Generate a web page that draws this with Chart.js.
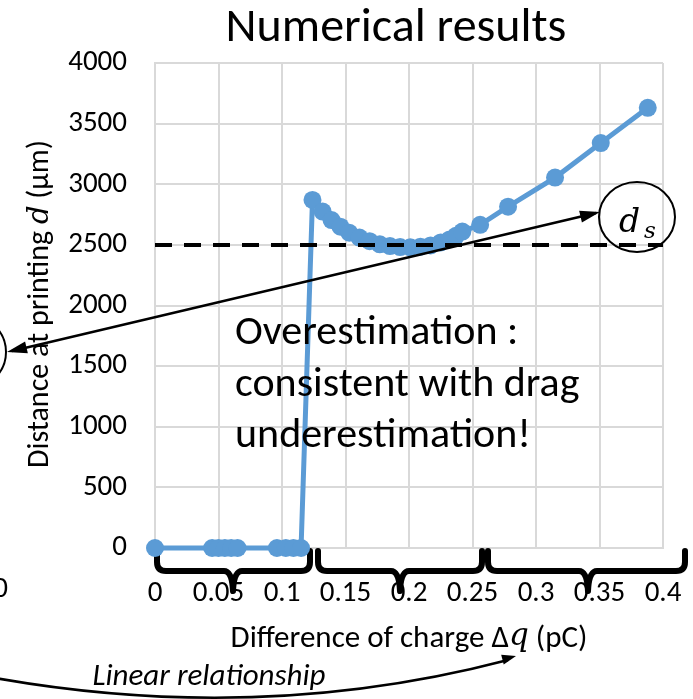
<!DOCTYPE html>
<html lang="en">
<head>
  <meta charset="UTF-8">
  <title>Numerical results</title>
  <script src="https://cdn.jsdelivr.net/npm/chart.js"></script>
  <style>
    html, body { margin: 0; padding: 0; background: #fff; }
    canvas { display: block; }
  </style>
</head>
<body>
  <canvas id="resultsChart" width="693" height="699"></canvas>

  <script>
    // charge difference (pC) and printing distance (um)
    const chargeValues = [0, 0.045, 0.05, 0.055, 0.06, 0.065, 0.096, 0.103, 0.109, 0.115,
      0.124, 0.132, 0.139, 0.146, 0.153, 0.161, 0.169, 0.177, 0.185, 0.193, 0.201,
      0.209, 0.217, 0.225, 0.232, 0.237, 0.242, 0.256, 0.278, 0.315, 0.351, 0.388];
    const distanceValues = [0, 0, 0, 0, 0, 0, 0, 0, 0, 0,
      2871, 2775, 2705, 2650, 2600, 2560, 2530, 2505, 2490, 2482, 2480,
      2485, 2495, 2520, 2545, 2575, 2610, 2665, 2815, 3055, 3340, 3630];
    const thresholdValue = 2500;
    const xTicks = [0, 0.05, 0.1, 0.15, 0.2, 0.25, 0.3, 0.35, 0.4];
    const yTicks = [0, 500, 1000, 1500, 2000, 2500, 3000, 3500, 4000];

    const FONT = 'Carlito, Lato, sans-serif';
    const MATH = '"DejaVu Serif", serif';
    const BLUE = '#5B9BD5';

    const points = chargeValues.map((x, i) => ({ x: x, y: distanceValues[i] }));
    const thresholdLine = [
      { x: xTicks[0], y: thresholdValue },
      { x: xTicks[xTicks.length - 1], y: thresholdValue }
    ];

    function arrowHead(ctx, x, y, angle, len, wid) {
      ctx.save();
      ctx.translate(x, y);
      ctx.rotate(angle);
      ctx.beginPath();
      ctx.moveTo(0, 0);
      ctx.lineTo(-len, -wid / 2);
      ctx.lineTo(-len, wid / 2);
      ctx.closePath();
      ctx.fill();
      ctx.restore();
    }

    function brace(ctx, x0, x1, xm) {
      const yTop = 551, yH = 571, yTip = 597, r = 9;
      ctx.beginPath();
      ctx.moveTo(x0, yTop);
      ctx.lineTo(x0, yH - r);
      ctx.quadraticCurveTo(x0, yH, x0 + r, yH);
      ctx.lineTo(xm - r, yH);
      ctx.quadraticCurveTo(xm - 1, yH, xm, yTip - 6);
      ctx.quadraticCurveTo(xm + 1, yH, xm + r, yH);
      ctx.lineTo(x1 - r, yH);
      ctx.quadraticCurveTo(x1, yH, x1, yH - r);
      ctx.lineTo(x1, yTop);
      ctx.stroke();
    }

    // draws pieces of text in a row, each with its own font
    function mixedText(ctx, parts, cx, y) {
      let total = 0;
      parts.forEach(p => { ctx.font = p.font; p.w = ctx.measureText(p.text).width; total += p.w; });
      let x = cx - total / 2;
      ctx.textAlign = 'left';
      parts.forEach(p => { ctx.font = p.font; ctx.fillText(p.text, x, y + (p.dy || 0)); x += p.w; });
    }

    // braces sit under the data line
    const braces = {
      id: 'braces',
      beforeDatasetsDraw(chart) {
        const ctx = chart.ctx;
        ctx.save();
        ctx.strokeStyle = '#000';
        ctx.lineWidth = 6;
        ctx.lineJoin = 'round';
        ctx.lineCap = 'round';
        brace(ctx, 157, 310, 233);
        brace(ctx, 318, 482, 400);
        brace(ctx, 488, 685, 588);
        ctx.restore();
      }
    };

    // title, mixed-style axis titles and the slide annotations
    const annotations = {
      id: 'annotations',
      afterDraw(chart) {
        const ctx = chart.ctx;
        ctx.save();
        ctx.fillStyle = '#000';
        ctx.strokeStyle = '#000';
        ctx.textBaseline = 'alphabetic';

        // title
        ctx.font = '48px ' + FONT;
        ctx.textAlign = 'center';
        ctx.fillText('Numerical results', 396, 41);

        // x axis title with italic q
        mixedText(ctx, [
          { text: 'Difference of charge Δ', font: '31px ' + FONT },
          { text: 'q', font: 'italic 31px ' + MATH, dy: -2 },
          { text: ' (pC)', font: '31px ' + FONT }
        ], 409, 647);

        // y axis title with italic d
        ctx.save();
        ctx.translate(48, 304);
        ctx.rotate(-Math.PI / 2);
        mixedText(ctx, [
          { text: 'Distance at printing ', font: '30px ' + FONT },
          { text: 'd', font: 'italic 29px ' + MATH },
          { text: ' (μm)', font: '30px ' + FONT }
        ], 0, 0);
        ctx.restore();

        // stray "0" at left edge
        ctx.font = '29px ' + FONT;
        ctx.textAlign = 'right';
        ctx.textBaseline = 'middle';
        ctx.fillText('0', 8, 590);

        // d_s bubble
        ctx.lineWidth = 2;
        ctx.beginPath();
        ctx.ellipse(637, 217, 38, 35, 0, 0, Math.PI * 2);
        ctx.stroke();
        ctx.textAlign = 'left';
        ctx.textBaseline = 'alphabetic';
        ctx.font = 'italic 33px ' + MATH;
        ctx.fillText('d', 619, 232);
        ctx.font = 'italic 23px ' + MATH;
        ctx.fillText('s', 644, 238);

        // partial bubble at left edge
        ctx.beginPath();
        ctx.arc(-30, 352, 36, -Math.PI / 2, Math.PI / 2);
        ctx.stroke();

        // double arrow
        ctx.lineWidth = 2.5;
        ctx.beginPath();
        ctx.moveTo(596, 213);
        ctx.lineTo(12, 351);
        ctx.stroke();
        const ang = Math.atan2(213 - 351, 596 - 12);
        arrowHead(ctx, 600, 212, ang, 20, 12);
        arrowHead(ctx, 7, 352, ang + Math.PI, 20, 12);

        // overestimation text
        ctx.font = '42px ' + FONT;
        ctx.fillText('Overestimation :', 235, 344);
        ctx.fillText('consistent with drag', 235, 396);
        ctx.fillText('underestimation!', 235, 447);

        // linear relationship with curved arrow
        ctx.font = 'italic 31px ' + FONT;
        ctx.textAlign = 'center';
        ctx.fillText('Linear relationship', 209, 685);
        ctx.lineWidth = 2.5;
        ctx.beginPath();
        ctx.moveTo(-5, 678);
        ctx.quadraticCurveTo(260, 725, 508, 660);
        ctx.stroke();
        arrowHead(ctx, 516, 656, Math.atan2(660 - 725, 508 - 260), 14, 10);

        ctx.restore();
      }
    };

    const ctx = document.getElementById('resultsChart').getContext('2d');
    const resultsChart = new Chart(ctx, {
      type: 'scatter',
      data: {
        datasets: [{
          label: 'Threshold',
          data: thresholdLine,
          showLine: true,
          borderColor: '#000',
          borderWidth: 4,
          borderDash: [17, 12],
          pointRadius: 0
        }, {
          label: 'Distance',
          data: points,
          showLine: true,
          clip: false,
          borderColor: BLUE,
          backgroundColor: BLUE,
          borderWidth: 5,
          pointRadius: 9,
          pointBorderWidth: 0,
          pointBackgroundColor: BLUE
        }]
      },
      options: {
        responsive: false,
        devicePixelRatio: 1,
        animation: false,
        layout: { padding: { left: 0, right: 30, top: 63, bottom: 0 } },
        plugins: {
          legend: { display: false },
          tooltip: { enabled: false },
          title: { display: false }
        },
        scales: {
          x: {
            type: 'linear',
            min: xTicks[0],
            max: xTicks[xTicks.length - 1],
            afterBuildTicks: (scale) => { scale.ticks = xTicks.map(v => ({ value: v })); },
            afterFit: (scale) => {
              scale.height = 151;
              scale.paddingLeft = 0;
              scale.paddingRight = 0;
            },
            grid: { color: '#d9d9d9', lineWidth: 2, drawTicks: false },
            border: { color: '#d9d9d9', width: 2 },
            ticks: {
              padding: 28,
              color: '#000',
              font: { family: FONT, size: 29 },
              maxRotation: 0,
              autoSkip: false,
              callback: (v) => String(Math.round(v * 100) / 100)
            }
          },
          y: {
            min: yTicks[0],
            max: yTicks[yTicks.length - 1],
            afterBuildTicks: (scale) => { scale.ticks = yTicks.map(v => ({ value: v })); },
            afterFit: (scale) => {
              scale.width = 155;
              scale.paddingTop = 0;
              scale.paddingBottom = 0;
            },
            grid: { color: '#d9d9d9', lineWidth: 2, drawTicks: false },
            border: { color: '#d9d9d9', width: 2 },
            ticks: {
              padding: 28,
              color: '#000',
              font: { family: FONT, size: 29 },
              autoSkip: false,
              callback: (v) => String(v)
            }
          }
        }
      },
      plugins: [braces, annotations]
    });
  </script>
</body>
</html>
